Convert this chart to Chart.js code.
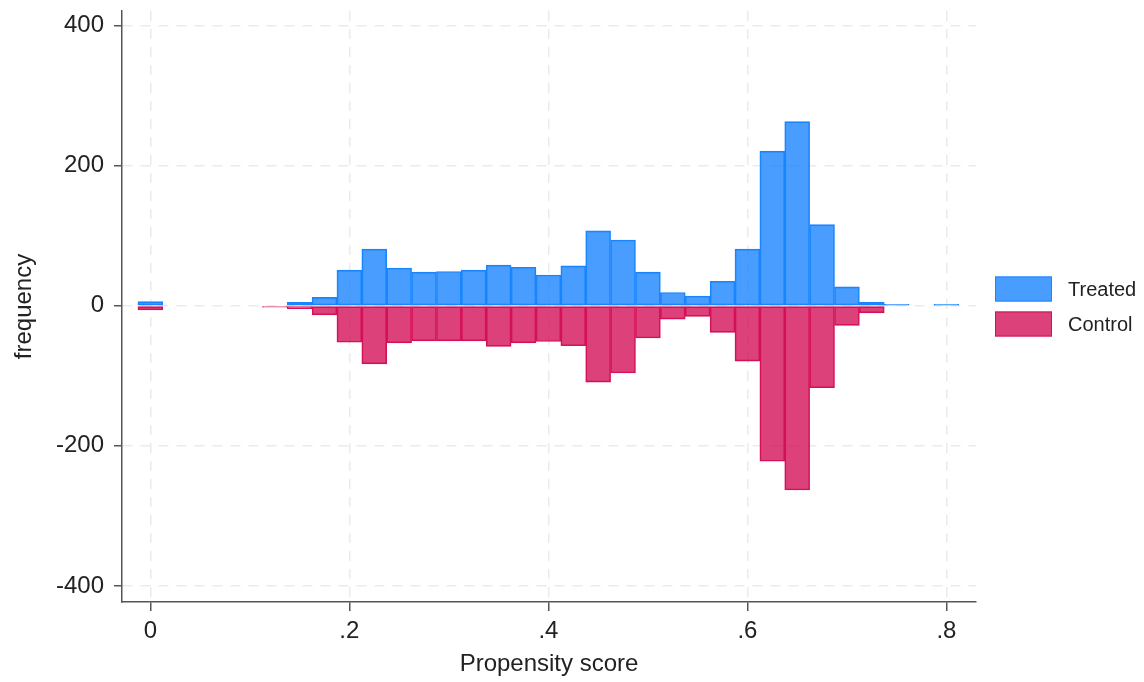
<!DOCTYPE html>
<html>
<head>
<meta charset="utf-8">
<script src="https://cdn.jsdelivr.net/npm/chart.js@4.4.1/dist/chart.umd.min.js"></script>
<style>
  html, body { margin: 0; padding: 0; background: #fff; }
  #wrap { width: 1144px; height: 682px; }
</style>
</head>
<body>
<div id="wrap"><canvas id="psChart"></canvas></div>
<script>
  /* ===== Propensity score: mirrored histogram (treated up, control down) ===== */
  const binCenters  = [0, 0.125, 0.15, 0.175, 0.2, 0.225, 0.25, 0.275, 0.3, 0.325, 0.35, 0.375, 0.4, 0.425,
                       0.45, 0.475, 0.5, 0.525, 0.55, 0.575, 0.6, 0.625, 0.65, 0.675, 0.7, 0.725, 0.75, 0.8];
  const treatedFreq = [6, 0, 5, 12, 51, 81, 54, 48, 49, 51, 58, 55, 44, 57,
                       107, 94, 48, 19, 14, 35, 81, 221, 263, 116, 27, 5, 2, 2];
  const controlFreq = [6, 2, 4, 13, 52, 83, 53, 50, 50, 50, 58, 53, 51, 57,
                       109, 96, 46, 19, 15, 38, 79, 222, 263, 117, 28, 10, 0, 0];
  const seriesNames = ['Treated', 'Control'];
  const xTickVals   = [0, 0.2, 0.4, 0.6, 0.8];
  const xTickLabels = ['0', '.2', '.4', '.6', '.8'];
  const yTickVals   = [-400, -200, 0, 200, 400];

  const FONT = "'Liberation Sans', Arial, sans-serif";
  Chart.defaults.font.family = FONT;
  Chart.defaults.color = '#222';

  // 0 -> null, sonst zeichnet Chart.js eine Null-Linie mit Rahmen
  const toPoints = (vals, sign) => binCenters.map((x, i) => ({ x, y: vals[i] ? sign * vals[i] : null }));

  const barStyle = { borderWidth: 1, borderSkipped: false, grouped: false, barPercentage: 1, categoryPercentage: 1 };

  // Legende rechts neben der Plotfläche (Stata-Stil: großes Kästchen, Text daneben)
  const sideLegend = {
    id: 'sideLegend',
    afterDraw(c) {
      const { ctx, chartArea: a } = c;
      const boxW = 57, boxH = 25, step = 35;
      const x = a.right + 19;
      let y = (a.top + a.bottom) / 2 - (step + boxH) / 2;
      ctx.save();
      ctx.font = '20px ' + FONT;
      ctx.textBaseline = 'middle';
      c.data.datasets.forEach(ds => {
        ctx.fillStyle = ds.backgroundColor; ctx.fillRect(x, y, boxW, boxH);
        ctx.strokeStyle = ds.borderColor; ctx.lineWidth = 1; ctx.strokeRect(x + 0.5, y + 0.5, boxW - 1, boxH - 1);
        ctx.fillStyle = '#222'; ctx.fillText(ds.label, x + boxW + 16, y + boxH / 2 + 1);
        y += step;
      });
      ctx.restore();
    },
  };

  const gridOpts = { color: '#ebebeb', lineWidth: 1.5, tickColor: '#555', tickWidth: 1.5, tickBorderDash: [] };
  const borderOpts = { color: '#555', width: 1.5, dash: [10, 8] };

  new Chart(document.getElementById('psChart'), {
    type: 'bar',
    data: {
      datasets: [
        { label: seriesNames[0], data: toPoints(treatedFreq, 1), backgroundColor: 'rgba(26,133,255,0.8)', borderColor: '#1a85ff', ...barStyle },
        { label: seriesNames[1], data: toPoints(controlFreq, -1), backgroundColor: 'rgba(212,17,89,0.8)', borderColor: '#d41159', ...barStyle },
      ],
    },
    options: {
      responsive: true, maintainAspectRatio: false, animation: false,
      layout: { padding: { top: 11, right: 168, left: 0, bottom: 0 } },
      plugins: { legend: { display: false }, tooltip: { enabled: false } },
      scales: {
        x: {
          type: 'linear', min: -0.0285, max: 0.8297, offset: false,
          afterBuildTicks: s => { s.ticks = xTickVals.map(v => ({ value: v })); },
          afterFit: s => { s.height = 80; },
          grid: { ...gridOpts, offset: false, tickLength: 9 },
          border: borderOpts,
          ticks: { padding: 6, font: { size: 24 }, maxRotation: 0, autoSkip: false, callback: (v, i) => xTickLabels[i] },
          title: { display: true, text: 'Propensity score', font: { size: 24 }, padding: { top: 0, bottom: 3 } },
        },
        y: {
          min: -423, max: 421,
          afterBuildTicks: s => { s.ticks = yTickVals.map(v => ({ value: v })); },
          // feste Breite + kein Extra-Abstand oben (sonst rutscht die Plotfläche nach unten)
          afterFit: s => { s.width = 122; s.paddingTop = 0; s.paddingBottom = 0; },
          grid: { ...gridOpts, tickLength: 8 },
          border: borderOpts,
          ticks: { padding: 10, font: { size: 24 }, callback: v => String(v) },
          title: { display: true, text: 'frequency', font: { size: 24 }, padding: { top: 10, bottom: 0 } },
        },
      },
    },
    plugins: [sideLegend],
  });
</script>
</body>
</html>
